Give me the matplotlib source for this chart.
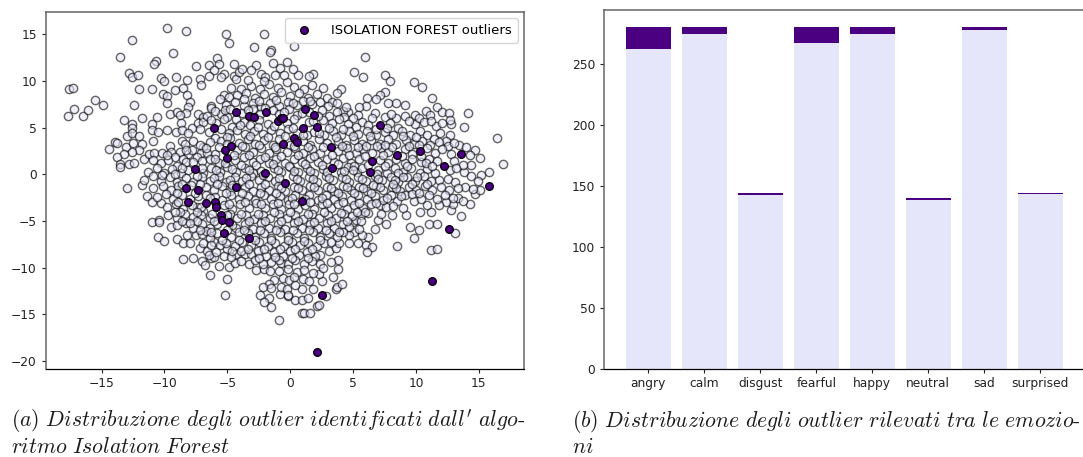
import matplotlib
matplotlib.use("Agg")
import matplotlib.pyplot as plt

# emotions and counts per class
emotions = ["angry", "calm", "disgust", "fearful", "happy", "neutral", "sad", "surprised"]
inlier_counts = [262, 274, 142, 267, 274, 138, 278, 143]
outlier_counts = [18, 6, 2, 13, 6, 2, 2, 1]

# points flagged by isolation forest
outlier_pts = [
    (-4.3, 6.7), (-3.3, 6.3), (-2.9, 6.2), (-1.9, 6.7), (-1.0, 5.7), (-0.7, 6.0), (-6.1, 5.0),
    (-0.6, 3.3), (-4.7, 3.0), (-5.2, 2.6), (-5.0, 1.8), (-7.6, 0.6), (-2.0, 0.2), (-0.4, -0.9),
    (-4.3, -1.4), (-8.3, -1.5), (-7.3, -1.7), (1.2, 7.0), (1.9, 6.4), (-0.6, 6.0), (1.0, 5.0),
    (2.1, 5.1), (7.1, 5.3), (0.3, 3.9), (0.5, 3.5), (3.2, 2.9), (8.5, 2.1), (10.3, 2.5),
    (13.6, 2.2), (3.3, 0.7), (6.5, 1.4), (6.3, 0.3), (12.2, 0.9), (15.8, -1.2), (-8.1, -3.0),
    (-6.7, -3.1), (-6.0, -3.0), (-5.9, -3.5), (-5.5, -4.3), (-5.4, -4.9), (-4.9, -5.1),
    (-5.3, -6.3), (-3.3, -6.8), (0.9, -2.8), (12.6, -5.9), (11.3, -11.4), (2.5, -12.9), (2.1, -19.0),
]

# outer points, read one by one
edge_pts = [
    (-17.6, 9.1), (-17.3, 9.3), (-17.7, 6.3), (-17.2, 7.0), (-16.5, 6.3), (-16.1, 6.9), (-15.5, 8.0),
    (-14.9, 7.4), (-13.5, 12.6), (-12.6, 14.4), (-9.8, 15.7), (-8.3, 15.4), (-5.1, 15.0), (-4.9, 14.1),
    (-2.1, 15.0), (-2.9, 13.6), (-1.5, 13.3), (-1.6, 13.1), (-9.3, 13.0), (-10.7, 12.2), (-10.8, 11.8),
    (-12.8, 10.9), (-12.6, 10.4), (-12.1, 10.6), (-12.0, 9.2), (-11.0, 9.1), (-10.3, 10.3), (-10.0, 10.0),
    (-9.1, 10.4), (-8.2, 10.1), (-8.5, 9.3), (-9.2, 9.0), (-10.1, 8.6), (-9.8, 8.4), (-8.2, 8.5),
    (-8.0, 7.8), (-8.1, 7.2), (-9.8, 7.6), (-12.4, 7.4), (-11.8, 6.0), (-13.2, 5.8), (-12.6, 5.4),
    (-12.6, 5.0), (-10.6, 6.1), (-11.0, 5.4), (-11.0, 4.8), (-9.6, 6.5), (-9.0, 6.7), (-8.3, 6.6),
    (-8.8, 6.4), (-7.3, 6.5), (-6.9, 6.2), (-8.7, 5.5), (-7.8, 5.0), (-7.3, 5.5), (-6.9, 5.6),
    (-7.2, 4.9), (-9.8, 4.8), (-9.1, 4.5), (-8.6, 4.8), (-8.1, 4.4), (-10.5, 4.5), (-10.9, 3.6),
    (-13.0, 4.1), (-12.6, 4.4), (-12.0, 4.1), (-13.9, 3.5), (-13.8, 3.4), (-14.4, 2.7), (-13.1, 2.9),
    (-12.5, 3.4), (-11.8, 3.3), (-12.0, 2.6), (-12.6, 2.4), (-13.2, 2.2), (-13.8, 1.9), (-13.5, 1.1),
    (-13.5, 0.8), (-12.8, 1.1), (-12.4, 1.2), (-11.6, 1.6), (-11.2, 2.2), (-10.8, 2.3), (-10.9, 1.5),
    (-9.6, 3.0), (-8.6, 3.6), (-8.4, 3.3), (-8.8, 2.4), (-8.1, 2.2), (-9.5, 2.4), (-6.9, 2.9),
    (-7.1, 2.3), (-6.0, 2.2), (-6.5, 4.5), (-6.0, 3.9), (-7.5, 11.6), (-6.5, 11.7), (-5.8, 12.5),
    (-5.7, 11.8), (-6.1, 11.2), (-7.2, 10.2), (-7.1, 9.6), (-6.5, 10.5), (-5.3, 10.8), (-5.5, 10.4),
    (-4.5, 11.8), (-4.5, 10.5), (-4.3, 10.2), (-4.1, 11.0), (-3.8, 11.3), (-2.7, 11.7), (-3.1, 11.2),
    (-2.3, 10.8), (-4.7, 9.3), (-5.3, 8.5), (-5.6, 8.1), (-4.9, 8.3), (-6.3, 7.3), (-6.3, 7.1),
    (-5.5, 6.5), (-5.0, 6.2), (-4.3, 5.9), (-5.9, 5.5), (-4.6, 5.1),
    (0.3, 13.8), (5.9, 12.6), (5.1, 11.0), (5.8, 10.4), (7.5, 10.6), (7.9, 10.0), (9.8, 9.9), (10.5, 9.4),
    (11.3, 8.2), (16.4, 3.9), (16.9, 1.1), (14.1, 6.6), (13.8, 5.1), (11.7, 7.2), (12.1, 6.7), (12.6, 6.6),
    (12.8, 5.4), (12.7, 5.8), (10.8, 6.8), (11.1, 6.4), (9.1, 7.4), (8.4, 7.6), (7.8, 7.7), (7.5, 8.8),
    (7.1, 8.5), (6.8, 8.1), (6.1, 8.2), (6.0, 7.3), (6.7, 6.6), (6.5, 6.0), (5.5, 7.2), (5.4, 6.4),
    (5.7, 5.6), (4.6, 6.7), (4.2, 6.8), (4.0, 9.1), (3.7, 8.7), (2.6, 9.3), (1.8, 10.8), (1.5, 10.5),
    (0.6, 10.6), (8.4, 6.0), (9.1, 6.3), (8.6, 5.0), (9.9, 6.4), (9.9, 5.4), (10.2, 6.0), (11.6, 5.2),
    (12.7, 4.2), (13.4, 3.1), (14.0, 2.9), (14.7, 2.6), (15.1, 1.8), (14.4, 1.0), (15.8, 0.3), (15.2, -0.1),
    (13.8, 0.3), (12.7, 0.5), (11.8, -0.6), (11.9, 4.4),
    (-13.0, -1.5), (-11.8, -1.1), (-11.4, -2.3), (-11.0, -3.0), (-10.3, -3.1), (-11.0, -5.1), (-10.4, -4.9),
    (-10.4, -5.1), (-9.5, -5.6), (-10.5, -6.7), (-10.0, -7.1), (-9.0, -6.9), (-8.5, -7.4), (-8.2, -6.5),
    (-7.5, -6.5), (-8.0, -7.3), (-8.5, -9.1), (-7.7, -9.0), (-7.2, -7.9), (-7.0, -9.3), (-6.8, -9.7),
    (-6.3, -9.0), (-6.1, -8.8), (-6.4, -10.8), (-5.7, -9.8), (-5.0, -11.2), (-5.2, -12.9), (-4.9, -9.9),
    (-4.4, -9.5), (-6.6, -8.2), (-6.1, -7.2), (-5.6, -7.6), (-5.0, -8.0), (-5.3, -8.7), (-4.3, -8.5),
    (-3.6, -8.5), (-3.3, -9.6), (-2.7, -10.2), (-2.1, -10.1), (-1.6, -10.3), (-1.5, -9.4), (-0.7, -9.5),
    (-1.3, -11.3), (-1.7, -11.7), (-2.2, -12.1), (-1.5, -12.2), (-2.4, -12.9), (-1.7, -13.2), (-2.1, -13.7),
    (-1.5, -14.2), (-0.9, -15.6), (-0.8, -12.8), (-0.2, -13.0), (-0.7, -12.1), (-0.3, -12.3), (-0.6, -11.1),
    (-0.1, -11.3), (0.9, -14.9), (1.1, -14.8), (1.6, -14.8), (2.1, -14.1), (2.3, -14.0), (2.8, -13.0),
    (0.4, -13.5), (0.9, -13.5), (1.4, -13.2), (-0.2, -12.9), (1.8, -12.3), (0.9, -12.3), (0.4, -11.9),
    (3.6, -12.3), (3.7, -12.1), (4.1, -11.7), (3.4, -11.0), (2.5, -11.4), (2.3, -10.7), (3.8, -10.1),
    (3.8, -9.2), (3.2, -9.4), (2.4, -8.6), (3.1, -8.2), (3.6, -7.9), (3.9, -7.4), (4.7, -7.4), (5.4, -7.4),
    (6.0, -7.6), (6.5, -7.8), (6.1, -8.3), (6.7, -5.9), (6.2, -6.7), (5.7, -6.5), (5.1, -6.2), (5.5, -5.8),
    (4.7, -6.5), (5.0, -5.1), (5.2, -4.9), (8.5, -7.7), (9.5, -5.6), (10.2, -6.0), (9.8, -6.8), (11.0, -5.3),
    (11.7, -5.3), (13.1, -6.3), (13.6, -4.5), (14.3, -3.2), (12.8, -3.8), (12.9, -3.2), (12.4, -3.0),
    (13.3, -2.5), (13.7, -2.8), (14.7, -2.1), (11.8, -3.3), (11.2, -4.0), (10.3, -4.0), (10.9, -3.3),
    (9.2, -4.4), (9.0, -3.6), (8.1, -4.4), (7.6, -5.3), (7.0, -4.9), (7.2, -4.2), (7.1, -3.3), (7.6, -3.5),
    (8.5, -2.8), (9.8, -2.9), (11.2, -8.1), (11.7, -8.0), (13.9, -1.3), (15.1, -1.7),
]

# dense middle of the cloud, estimated row by row
core_pts = [
    (-3.9, 9.2), (-3.1, 9.5), (-2.4, 9.1), (-1.7, 9.7), (-1.0, 9.3), (-0.3, 9.9), (0.3, 9.4), (1.1, 9.1), (1.7, 9.6),
    (-3.4, 10.1), (-2.0, 10.4), (-1.2, 10.7), (-0.8, 11.4), (-0.3, 12.0), (-0.5, 10.6), (0.2, 11.3), (-1.4, 11.9), (-2.1, 10.0),
    (-4.2, 8.5), (-3.5, 8.7), (-2.8, 8.2), (-2.1, 8.6), (-1.4, 8.3), (-0.7, 8.8), (0.0, 8.4), (0.7, 8.7), (1.4, 8.2), (2.1, 8.6), (2.9, 8.2), (3.3, 7.8),
    (-5.1, 7.4), (-4.4, 7.8), (-3.7, 7.3), (-3.0, 7.7), (-2.3, 7.2), (-1.6, 7.6), (-0.9, 7.3), (-0.2, 7.8), (0.5, 7.4), (1.0, 7.9), (1.7, 7.5), (2.4, 7.8), (3.0, 7.3), (3.7, 7.6), (4.4, 7.2),
    (-6.6, 6.3), (-6.0, 6.8), (-5.2, 6.9), (-3.8, 6.6), (-3.0, 7.0), (-2.4, 6.5), (-1.4, 6.9), (-0.9, 6.5), (-0.1, 7.0), (0.5, 6.4), (1.5, 6.7), (2.5, 6.9), (3.1, 6.3), (3.7, 6.7), (4.3, 6.2), (5.0, 6.0),
    (-6.3, 5.8), (-5.3, 5.9), (-3.7, 5.6), (-3.2, 5.3), (-2.5, 5.8), (-1.8, 5.4), (-0.3, 5.5), (0.3, 5.9), (1.5, 5.6), (2.6, 5.8), (3.3, 5.5), (3.9, 5.9), (4.6, 5.4), (5.2, 5.1), (6.2, 5.3), (7.5, 6.2), (7.9, 5.5), (8.0, 6.5), (9.4, 5.7), (10.6, 5.6), (11.2, 5.7), (12.1, 5.5),
    (-5.5, 4.9), (-4.9, 4.4), (-4.2, 4.8), (-3.6, 4.3), (-2.9, 4.7), (-2.2, 4.3), (-1.5, 4.8), (-0.8, 4.4), (-0.2, 4.9), (0.5, 4.4), (1.3, 4.2), (1.9, 4.5), (2.7, 4.2), (3.4, 4.6), (4.0, 4.2), (4.7, 4.7), (5.4, 4.3), (6.1, 4.6), (6.8, 4.2), (7.5, 4.5), (8.2, 4.2), (8.9, 4.6), (9.5, 4.2), (10.3, 4.7), (10.9, 4.2), (11.4, 3.8), (12.4, 3.6),
    (-7.7, 3.6), (-7.2, 3.1), (-6.4, 3.5), (-5.5, 3.6), (-4.8, 3.9), (-4.1, 3.4), (-3.4, 3.8), (-2.8, 3.3), (-2.1, 3.7), (-1.4, 3.2), (-0.9, 3.8), (0.0, 3.2), (1.0, 3.6), (1.6, 3.2), (2.3, 3.8), (2.9, 3.4), (3.8, 3.6), (4.4, 3.2), (5.1, 3.7), (5.7, 3.3), (6.4, 3.7), (7.1, 3.3), (7.8, 3.8), (8.4, 3.3), (9.2, 3.7), (9.8, 3.3), (10.5, 3.6), (11.1, 3.2), (11.8, 3.5), (12.5, 3.0), (13.0, 3.4),
    (-10.2, 2.3), (-9.2, 1.9), (-8.5, 1.7), (-7.8, 2.6), (-7.4, 1.9), (-6.6, 2.3), (-5.7, 2.9), (-4.2, 2.6), (-3.6, 2.9), (-3.0, 2.4), (-2.3, 2.8), (-1.7, 2.3), (-1.1, 2.7), (-0.3, 2.4), (0.4, 2.8), (1.0, 2.3), (1.7, 2.7), (2.4, 2.3), (3.8, 2.5), (4.5, 2.8), (5.2, 2.3), (5.8, 2.7), (6.5, 2.3), (7.2, 2.8), (7.8, 2.4), (9.1, 2.7), (9.7, 2.2), (10.9, 2.8), (11.5, 2.3), (12.1, 2.7), (12.8, 2.2), (14.3, 2.1),
    (-10.3, 1.2), (-9.7, 1.5), (-9.0, 0.9), (-8.3, 1.3), (-7.0, 1.4), (-6.4, 1.7), (-5.7, 1.2), (-4.4, 1.5), (-3.7, 1.9), (-3.0, 1.3), (-2.4, 1.7), (-1.7, 1.2), (-1.1, 1.6), (-0.4, 1.2), (0.3, 1.7), (0.9, 1.3), (1.6, 1.8), (2.2, 1.3), (2.9, 1.7), (3.5, 1.3), (4.2, 1.8), (4.8, 1.2), (5.5, 1.6), (7.1, 1.5), (7.8, 1.2), (8.4, 1.6), (9.1, 1.2), (9.7, 1.7), (10.4, 1.3), (11.0, 1.7), (11.7, 1.4), (13.0, 1.4), (13.7, 1.0),
    (-11.3, 0.3), (-10.6, 0.7), (-10.0, 0.2), (-9.4, 0.6), (-8.7, 0.1), (-8.1, 0.5), (-6.9, 0.2), (-6.3, 0.7), (-5.6, 0.3), (-5.0, 0.8), (-4.3, 0.3), (-3.6, 0.7), (-3.0, 0.2), (-1.3, 0.7), (-0.7, 0.3), (0.0, 0.8), (0.6, 0.3), (1.3, 0.7), (1.9, 0.2), (2.6, 0.6), (4.0, 0.3), (4.6, 0.8), (5.3, 0.3), (5.7, 0.7), (7.0, 0.5), (7.7, 0.2), (8.3, 0.7), (9.0, 0.3), (9.6, 0.7), (10.3, 0.2), (10.9, 0.6), (11.5, 0.1), (13.2, 0.7), (14.4, -0.2),
    (-11.6, -0.6), (-10.9, -0.2), (-10.3, -0.7), (-9.6, -0.3), (-9.0, -0.8), (-8.3, -0.4), (-7.7, -0.8), (-7.0, -0.3), (-6.4, -0.7), (-5.7, -0.2), (-5.1, -0.8), (-4.4, -0.3), (-3.8, -0.7), (-3.1, -0.2), (-2.5, -0.6), (-1.8, -0.3), (-1.2, -0.7), (0.2, -0.2), (0.8, -0.7), (1.5, -0.3), (2.1, -0.8), (2.8, -0.2), (3.4, -0.6), (4.1, -0.3), (4.7, -0.8), (5.4, -0.3), (6.0, -0.7), (6.7, -0.2), (7.3, -0.6), (8.0, -0.3), (8.6, -0.8), (9.3, -0.3), (9.9, -0.7), (10.6, -0.2), (11.2, -0.7), (12.5, -0.5), (13.1, -0.8), (14.9, -0.7),
    (-10.9, -1.5), (-10.1, -1.2), (-9.5, -1.7), (-8.9, -1.2), (-7.9, -1.1), (-6.7, -1.3), (-6.1, -1.7), (-5.4, -1.2), (-4.8, -1.8), (-3.6, -1.3), (-3.0, -1.8), (-2.3, -1.3), (-1.7, -1.7), (-1.0, -1.2), (-0.4, -1.8), (0.3, -1.3), (0.9, -1.7), (1.6, -1.2), (2.2, -1.7), (2.9, -1.3), (3.5, -1.8), (4.2, -1.2), (4.8, -1.7), (5.5, -1.3), (6.1, -1.8), (6.8, -1.2), (7.4, -1.7), (8.1, -1.3), (8.7, -1.8), (9.4, -1.3), (10.0, -1.7), (10.7, -1.2), (11.3, -1.7), (12.0, -1.3), (12.6, -1.7), (13.3, -1.5), (14.5, -1.6),
    (-10.6, -2.4), (-9.9, -2.1), (-9.3, -2.6), (-8.6, -2.2), (-8.0, -2.6), (-7.3, -2.3), (-6.7, -2.2), (-6.0, -2.4), (-5.4, -2.7), (-4.7, -2.2), (-4.1, -2.6), (-3.4, -2.3), (-2.8, -2.7), (-2.1, -2.2), (-1.5, -2.6), (-0.8, -2.3), (-0.2, -2.7), (0.4, -2.2), (1.5, -2.2), (2.2, -2.7), (2.8, -2.2), (3.5, -2.6), (4.1, -2.3), (4.8, -2.7), (5.4, -2.2), (6.1, -2.6), (6.7, -2.3), (7.4, -2.7), (8.0, -2.2), (9.1, -2.2), (9.7, -2.1), (10.4, -2.6), (11.0, -2.2), (11.7, -2.6), (12.3, -2.2), (12.9, -2.5),
    (-9.8, -3.5), (-9.1, -3.2), (-8.5, -3.7), (-7.4, -3.5), (-6.9, -3.9), (-5.3, -3.3), (-4.6, -3.7), (-4.0, -3.2), (-3.3, -3.6), (-2.7, -3.1), (-2.0, -3.6), (-1.4, -3.2), (-0.7, -3.7), (-0.1, -3.2), (0.6, -3.7), (1.2, -3.3), (1.9, -3.7), (2.5, -3.2), (3.2, -3.6), (3.8, -3.2), (4.5, -3.7), (5.1, -3.3), (5.8, -3.6), (6.4, -3.2), (8.2, -3.4),
    (-9.7, -4.4), (-9.0, -4.7), (-8.4, -4.2), (-7.7, -4.6), (-7.1, -4.3), (-6.4, -4.7), (-4.8, -4.2), (-4.2, -4.7), (-3.5, -4.3), (-2.9, -4.8), (-2.2, -4.3), (-1.6, -4.7), (-0.9, -4.2), (-0.3, -4.7), (0.4, -4.3), (1.0, -4.8), (1.7, -4.2), (2.3, -4.7), (3.0, -4.3), (3.6, -4.7), (4.3, -4.2), (4.9, -4.5), (5.6, -4.3), (6.2, -4.1),
    (-9.0, -5.4), (-8.3, -5.2), (-7.7, -5.7), (-7.0, -5.3), (-6.4, -5.7), (-5.8, -5.3), (-4.3, -5.7), (-3.6, -5.3), (-3.0, -5.8), (-2.3, -5.2), (-1.7, -5.7), (-1.0, -5.3), (-0.4, -5.8), (0.3, -5.2), (0.9, -5.7), (1.6, -5.3), (2.2, -5.7), (2.9, -5.2), (3.5, -5.7), (4.2, -5.3), (4.7, -5.6),
    (-7.0, -6.4), (-6.4, -6.8), (-5.8, -6.3), (-4.7, -6.7), (-4.1, -6.2), (-3.4, -6.3), (-2.8, -6.7), (-2.1, -6.3), (-1.5, -6.8), (-0.8, -6.2), (-0.2, -6.7), (0.5, -6.3), (1.1, -6.8), (1.8, -6.2), (2.4, -6.7), (3.1, -6.3), (3.7, -6.7), (4.2, -6.2),
    (-6.9, -7.4), (-5.1, -7.3), (-4.4, -7.7), (-3.8, -7.2), (-3.1, -7.6), (-2.5, -7.2), (-1.8, -7.7), (-1.2, -7.3), (-0.5, -7.7), (0.1, -7.2), (0.8, -7.6), (1.4, -7.3), (2.1, -7.7), (2.7, -7.3), (3.2, -7.2),
    (-6.5, -8.6), (-5.9, -8.3), (-4.7, -8.8), (-3.9, -8.2), (-3.1, -8.5), (-2.6, -8.2), (-1.9, -8.7), (-1.3, -8.3), (-0.6, -8.7), (0.0, -8.2), (0.7, -8.6), (1.3, -8.3), (2.0, -8.7),
    (-3.9, -9.3), (-2.8, -9.2), (-2.2, -9.6), (-0.9, -9.2), (-0.2, -9.6), (0.4, -9.2), (1.1, -9.6), (1.7, -9.3), (2.4, -9.6),
    (-0.9, -10.4), (-0.2, -10.1), (0.5, -10.5), (1.1, -10.2), (1.8, -10.6), (2.6, -10.0), (0.3, -11.0), (1.0, -11.2), (1.5, -11.4),
]

# second pass over the darkest part of the cloud
dark_pts = [
    (-3.7, 8.1), (-2.5, 7.9), (-1.1, 8.0), (0.2, 7.6), (1.6, 7.9), (-4.8, 7.0), (-3.4, 6.9), (-2.0, 7.1), (-0.5, 6.7), (0.9, 6.6), (2.2, 6.3),
    (-4.0, 5.3), (-2.6, 5.1), (-1.3, 5.2), (0.2, 5.0), (1.8, 5.7), (3.1, 5.0), (4.2, 4.9), (-5.0, 4.0), (-3.2, 4.1), (-1.8, 4.0), (-0.4, 4.1), (1.0, 4.2), (2.3, 4.4), (3.6, 4.0), (5.0, 4.1), (6.3, 4.1),
    (-6.7, 2.8), (-5.0, 3.3), (-3.8, 3.0), (-2.5, 3.1), (-1.2, 2.9), (0.3, 3.0), (1.4, 2.9), (2.6, 2.9), (4.1, 3.0), (5.4, 2.9), (6.9, 3.0), (8.1, 2.9), (-8.3, 2.6), (-6.0, 1.6),
    (-4.5, 2.1), (-3.3, 2.1), (-2.0, 1.9), (-0.7, 2.0), (0.6, 2.1), (1.9, 2.0), (3.3, 2.1), (4.7, 2.1), (5.9, 2.0), (7.4, 2.1), (8.9, 2.0), (10.4, 2.0), (-9.8, 2.1), (-7.7, 1.3),
    (-5.2, 1.2), (-3.9, 1.0), (-2.7, 1.0), (-1.4, 1.1), (-0.1, 0.9), (1.2, 1.1), (2.5, 1.0), (3.8, 1.1), (5.1, 0.9), (6.2, 1.0), (7.5, 0.9), (9.3, 0.9), (-8.6, 0.7), (-7.0, 0.7),
    (-5.9, 0.5), (-4.6, 0.6), (-3.3, 0.5), (-2.3, 0.4), (-1.0, 0.5), (0.3, 0.4), (1.6, 0.4), (2.9, 0.3), (4.3, 0.4), (5.0, 0.5), (6.9, 0.0), (8.6, 0.1), (-10.2, -0.1), (-9.2, 0.0),
    (-7.4, -0.2), (-6.1, -0.4), (-4.8, -0.6), (-3.5, -0.4), (-2.2, -0.1), (-0.9, -0.4), (0.5, -0.5), (1.8, -0.5), (3.1, -0.4), (4.4, -0.5), (5.7, -0.5), (7.0, -0.5), (8.3, -0.6), (-8.6, -1.0),
    (-7.2, -1.0), (-5.8, -1.0), (-4.6, -1.1), (-3.3, -1.0), (-2.0, -1.0), (-0.7, -1.5), (0.6, -1.5), (1.9, -1.4), (3.2, -1.5), (4.5, -1.4), (5.8, -1.5), (7.1, -1.4), (8.4, -1.5), (9.7, -1.0),
    (-9.0, -2.0), (-7.6, -2.0), (-6.4, -2.5), (-5.1, -2.0), (-3.8, -2.0), (-2.4, -2.0), (-1.1, -2.0), (0.1, -2.5), (1.2, -2.6), (2.5, -2.5), (3.8, -2.0), (5.1, -2.0), (6.4, -2.0), (7.7, -2.5),
    (-8.9, -3.0), (-7.8, -3.3), (-7.1, -3.5), (-4.9, -3.2), (-3.6, -3.0), (-2.3, -3.2), (-1.0, -3.1), (0.3, -3.2), (1.6, -3.0), (2.9, -3.1), (4.2, -3.0), (5.5, -3.1), (-8.8, -4.0), (-7.4, -4.0),
    (-6.2, -4.2), (-5.0, -4.4), (-3.9, -4.2), (-2.6, -4.2), (-1.3, -4.0), (0.0, -4.0), (1.4, -4.2), (2.7, -4.0), (4.0, -4.1), (5.3, -4.0), (-8.6, -5.0), (-7.4, -5.0), (-6.1, -5.0), (-4.6, -5.4),
    (-3.3, -5.0), (-2.0, -5.0), (-0.7, -5.0), (0.6, -5.0), (1.9, -5.1), (3.2, -5.0), (4.5, -5.0), (-6.7, -6.1), (-5.0, -6.0), (-3.7, -6.0), (-2.4, -6.0), (-1.1, -6.0), (0.2, -6.0), (1.5, -6.0),
    (2.8, -6.0), (3.9, -6.2), (-6.3, -7.6), (-5.4, -7.0), (-4.1, -7.0), (-2.8, -7.0), (-1.5, -7.0), (-0.2, -7.0), (1.1, -7.1), (2.4, -7.0), (-4.6, -8.2), (-3.4, -8.0), (-2.1, -8.0), (-0.8, -8.0),
    (0.4, -8.0), (1.7, -8.0), (-2.5, -9.0), (-1.2, -8.9), (0.1, -9.0), (1.4, -9.0), (6.8, 4.9), (7.7, 5.0), (9.0, 4.1), (6.0, 3.0), (7.5, 3.2), (9.4, 3.0), (10.2, 3.1), (10.0, 4.0), (10.8, 1.2), (11.3, 0.9),
    (6.6, -1.1), (8.2, -1.0), (9.0, -0.3), (10.1, -0.3), (10.9, -1.0), (8.8, -2.3), (10.2, -2.0), (6.8, -3.1), (5.9, -4.0), (5.6, -5.0), (-9.2, -4.0), (-8.0, -5.2), (-7.2, -6.0), (-6.3, -6.2),
]

all_pts = edge_pts + core_pts + dark_pts
inlier_x = [p[0] for p in all_pts]
inlier_y = [p[1] for p in all_pts]
outlier_x = [p[0] for p in outlier_pts]
outlier_y = [p[1] for p in outlier_pts]

LIGHT = "#E6E6FA"
DARK = "#4B0082"
W, H = 1083, 457


def pixel_axes(fig, left, top, right, bottom):
    return fig.add_axes([left / W, 1 - bottom / H, (right - left) / W, (bottom - top) / H])


def style_axes(ax):
    ax.tick_params(labelsize=8.8, length=3.2, width=0.8, colors="#222222", pad=3)
    for side in ["top", "left", "right"]:
        ax.spines[side].set_color("#666666")
        ax.spines[side].set_linewidth(1.1)
    ax.spines["bottom"].set_linewidth(0.9)


def main():
    plt.rcParams["mathtext.fontset"] = "cm"
    fig = plt.figure(figsize=(W / 100, H / 100), dpi=100)

    ax1 = pixel_axes(fig, 45.5, 12, 524, 368.5)
    ax1.scatter(inlier_x, inlier_y, s=36, c=LIGHT, edgecolors="k", linewidths=1.0, alpha=0.6)
    ax1.scatter(outlier_x, outlier_y, s=31, c=DARK, edgecolors="k", linewidths=0.9,
                label="ISOLATION FOREST outliers")
    ax1.set_xlim(-19.46, 18.58)
    ax1.set_ylim(-20.8, 17.4)
    ax1.set_xticks([-15, -10, -5, 0, 5, 10, 15])
    ax1.set_yticks([-20, -15, -10, -5, 0, 5, 10, 15])
    ax1.legend(loc="upper right", fontsize=9.5, borderaxespad=0.45, handletextpad=1.1, borderpad=0.45)
    style_axes(ax1)

    ax2 = pixel_axes(fig, 604, 10, 1084.5, 368.5)
    ax2.bar(emotions, inlier_counts, width=0.8, color=LIGHT)
    ax2.bar(emotions, outlier_counts, width=0.8, bottom=inlier_counts, color=DARK)
    ax2.set_xlim(-0.79, 7.79)
    ax2.set_ylim(0, 294)
    ax2.set_yticks([0, 50, 100, 150, 200, 250])
    style_axes(ax2)

    cap = dict(fontsize=15.7, ha="left", va="baseline", color="#1a1a1a")
    fig.text(11 / W, 1 - 427 / H, r"$\mathit{(a)\ Distribuzione\ degli\ outlier\ identificati\ dall'\ algo\text{-}}$", **cap)
    fig.text(11 / W, 1 - 453 / H, r"$\mathit{ritmo\ Isolation\ Forest}$", **cap)
    fig.text(572 / W, 1 - 427 / H, r"$\mathit{(b)\ Distribuzione\ degli\ outlier\ rilevati\ tra\ le\ emozio\text{-}}$", **cap)
    fig.text(572 / W, 1 - 453 / H, r"$\mathit{ni}$", **cap)

    fig.savefig("out.png", dpi=100)


if __name__ == '__main__':
    main()
